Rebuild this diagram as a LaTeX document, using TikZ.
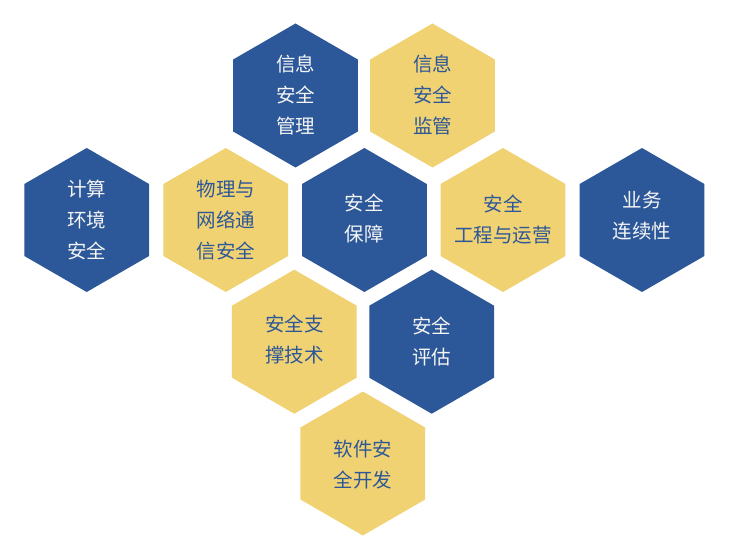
\documentclass[tikz,border=0pt]{standalone}
\usepackage{fontspec}
\setmainfont{Noto Sans CJK SC}
\usetikzlibrary{shapes.geometric}
\definecolor{hexblue}{RGB}{44,87,152}
\definecolor{hexyellow}{RGB}{240,210,115}
\definecolor{txtlight}{RGB}{245,245,245}
\tikzset{
  hexbase/.style={regular polygon, regular polygon sides=6, shape border rotate=30,
    minimum size=144bp, inner sep=0pt, outer sep=0pt, draw=none},
  hexb/.style={hexbase, fill=hexblue},
  hexy/.style={hexbase, fill=hexyellow},
  hextxt/.style={align=center, inner sep=0pt, font=\fontsize{19.5bp}{31bp}\selectfont},
  txtb/.style={hextxt, text=txtlight},
  txty/.style={hextxt, text=hexblue}
}
\begin{document}
\begin{tikzpicture}[x=1bp,y=-1bp]
\useasboundingbox[fill=white] (0,0) rectangle (736,545);
\node[hexb] (mgmt) at (295.5,95.5) {};
\node[hexy] (supv) at (432.5,95.5) {};
\node[hexb] (comp) at (86.7,220) {};
\node[hexy] (phys) at (225.8,220) {};
\node[hexb] (guar) at (364.4,220) {};
\node[hexy] (engi) at (503,220) {};
\node[hexb] (cont) at (642,220) {};
\node[hexy] (tech) at (294.3,341.7) {};
\node[hexb] (eval) at (431.7,341.7) {};
\node[hexy] (soft) at (362.8,463.5) {};
\node[txtb] (mgmt-t) at (mgmt.center) {信息\\安全\\管理};
\node[txty] (supv-t) at (supv.center) {信息\\安全\\监管};
\node[txtb] (comp-t) at (comp.center) {计算\\环境\\安全};
\node[txty] (phys-t) at (phys.center) {物理与\\网络通\\信安全};
\node[txtb] (guar-t) at ([yshift=2bp]guar.center) {安全\\保障};
\node[txty] (engi-t) at (engi.center) {安全\\工程与运营};
\node[txtb] (cont-t) at ([yshift=4bp]cont.center) {业务\\连续性};
\node[txty] (tech-t) at ([yshift=2bp]tech.center) {安全支\\撑技术};
\node[txtb] (eval-t) at (eval.center) {安全\\评估};
\node[txty] (soft-t) at ([yshift=-1bp]soft.center) {软件安\\全开发};
\end{tikzpicture}
\end{document}
